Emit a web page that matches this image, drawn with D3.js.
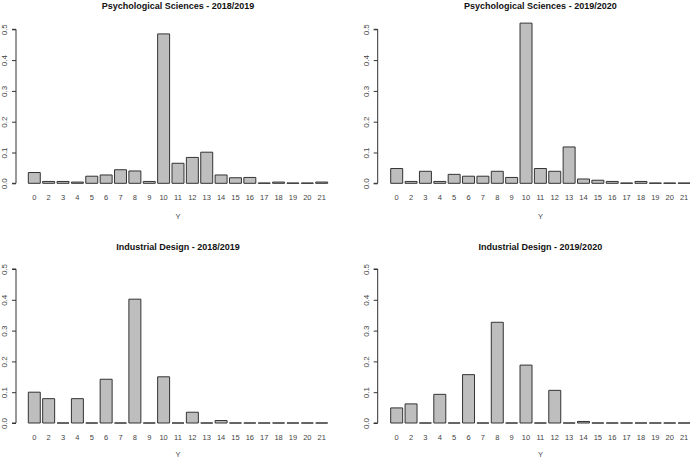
<!DOCTYPE html>
<html>
<head>
<meta charset="utf-8">
<script src="https://cdn.jsdelivr.net/npm/d3@7"></script>
<style>
  html, body { margin: 0; padding: 0; background: #fff; }
  svg { display: block; }
  text { font-family: "Liberation Sans", Arial, sans-serif; }
</style>
</head>
<body>
<svg id="chart" width="690" height="458"></svg>
<script>
const categories = ["0","2","3","4","5","6","7","8","9","10","11","12","13","14","15","16","17","18","19","20","21"];
const psych1819 = [0.035,0.006,0.006,0.004,0.023,0.027,0.044,0.040,0.006,0.485,0.065,0.084,0.101,0.027,0.018,0.019,0.001,0.004,0.001,0.001,0.004];
const psych1920 = [0.048,0.006,0.039,0.006,0.029,0.023,0.023,0.039,0.019,0.520,0.048,0.039,0.118,0.014,0.010,0.006,0.001,0.006,0.001,0.001,0.001];
const id1819    = [0.100,0.079,0,0.079,0,0.142,0,0.402,0,0.150,0,0.035,0,0.008,0,0,0,0,0,0,0];
const id1920    = [0.049,0.062,0,0.093,0,0.157,0,0.327,0,0.188,0,0.106,0,0.005,0,0,0,0,0,0,0];
const titles = ["Psychological Sciences - 2018/2019","Psychological Sciences - 2019/2020","Industrial Design - 2018/2019","Industrial Design - 2019/2020"];
const yTicks = [0, 0.1, 0.2, 0.3, 0.4, 0.5];
const xLabel = "Y";

const series = [psych1819, psych1920, id1819, id1920];

// layout of each panel (pixels)
const layout = [
  {bx0: 28.3, axisX: 16,    top: 29.3, bottom: 183.3, titleY: 8.8,   xlabY: 218.6},
  {bx0: 390.7, axisX: 377.7, top: 29.3, bottom: 183.3, titleY: 8.8,   xlabY: 218.6},
  {bx0: 28.3, axisX: 16,    top: 269,  bottom: 423,   titleY: 249.8, xlabY: 456.6},
  {bx0: 390.7, axisX: 377.7, top: 269,  bottom: 423,   titleY: 249.8, xlabY: 456.6}
];

const svg = d3.select("#chart");
const n = categories.length;
const space = 0.2, barW = 1;
const uMin = space, uMax = n * (barW + space);

series.forEach((vals, k) => {
  const L = layout[k];
  const pxPerUnit = 11.975;
  const x = d3.scaleLinear().domain([uMin, uMax]).range([L.bx0, L.bx0 + (uMax - uMin) * pxPerUnit]);
  const y = d3.scaleLinear().domain([0, 0.5]).range([L.bottom, L.top]);
  const g = svg.append("g");

  const data = vals.map((v, i) => ({cat: categories[i], v, u0: space + i * (barW + space)}));

  // bars (paths so that zero-height bars still draw as a line)
  g.selectAll("path.bar").data(data).enter().append("path")
    .attr("class", "bar")
    .attr("d", d => {
      const x0 = x(d.u0), x1 = x(d.u0 + barW), y0 = y(0), y1 = y(d.v);
      return `M${x0},${y0}V${y1}H${x1}V${y0}Z`;
    })
    .attr("fill", "#bebebe")
    .attr("stroke", "#333")
    .attr("stroke-width", 1);

  // x category labels
  g.selectAll("text.xl").data(data).enter().append("text")
    .attr("class", "xl")
    .attr("x", d => x(d.u0 + barW / 2))
    .attr("y", L.bottom + 17)
    .attr("text-anchor", "middle")
    .attr("font-size", 7.5)
    .attr("fill", "#444")
    .text(d => d.cat);

  // y axis
  const yAxis = d3.axisLeft(y).tickValues(yTicks).tickSize(4).tickFormat(d3.format(".1f"));
  const ax = g.append("g").attr("transform", `translate(${L.axisX},0)`).call(yAxis);
  ax.select(".domain").attr("stroke", "#333").attr("d", `M-4,${y(0)}H0V${y(0.5)}H-4`);
  ax.selectAll(".tick line").attr("stroke", "#333");
  ax.selectAll(".tick text")
    .attr("font-size", 8)
    .attr("fill", "#444")
    .attr("font-family", "Liberation Sans, Arial, sans-serif")
    .attr("transform", "rotate(-90)")
    .attr("x", 0)
    .attr("y", -9)
    .attr("dy", 0)
    .attr("text-anchor", "middle");

  // title
  const cx = (x(uMin) + x(uMax)) / 2;
  g.append("text")
    .attr("x", cx)
    .attr("y", L.titleY)
    .attr("text-anchor", "middle")
    .attr("font-size", 9)
    .attr("font-weight", "bold")
    .attr("fill", "#111")
    .text(titles[k]);

  // x axis title
  g.append("text")
    .attr("x", cx)
    .attr("y", L.xlabY)
    .attr("text-anchor", "middle")
    .attr("font-size", 7.5)
    .attr("fill", "#444")
    .text(xLabel);
});
</script>
</body>
</html>
